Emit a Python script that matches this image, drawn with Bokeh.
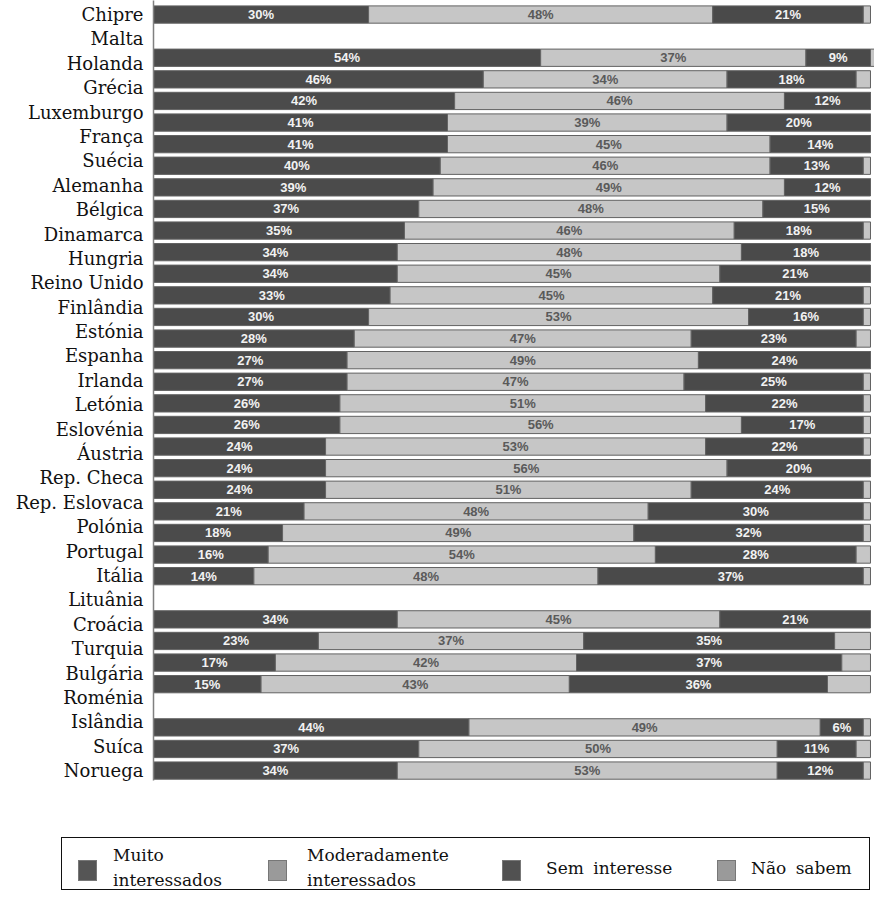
from bokeh.plotting import figure
from bokeh.models import Range1d, LinearAxis, FixedTicker, ColumnDataSource, Div
from bokeh.layouts import column
from bokeh.embed import file_html
from bokeh.resources import INLINE
from bokeh.core.properties import value

# Axis labels (as printed in the reference)
countries = ["Chipre", "Malta", "Holanda", "Grécia", "Luxemburgo", "França", "Suécia",
             "Alemanha", "Bélgica", "Dinamarca", "Hungria", "Reino Unido", "Finlândia",
             "Estónia", "Espanha", "Irlanda", "Letónia", "Eslovénia", "Áustria",
             "Rep. Checa", "Rep. Eslovaca", "Polónia", "Portugal", "Itália", "Lituânia",
             "Croácia", "Turquia", "Bulgária", "Roménia", "Islândia", "Suíca", "Noruega"]

# Bar rows, top to bottom (None = empty row)
muito = [30, None, 54, 46, 42, 41, 41, 40, 39, 37, 35, 34, 34, 33, 30, 28, 27, 27, 26, 26,
         24, 24, 24, 21, 18, 16, 14, None, 34, 23, 17, 15, None, 44, 37, 34]
moderado = [48, None, 37, 34, 46, 39, 45, 46, 49, 48, 46, 48, 45, 45, 53, 47, 49, 47, 51, 56,
            53, 56, 51, 48, 49, 54, 48, None, 45, 37, 42, 43, None, 49, 50, 53]
sem = [21, None, 9, 18, 12, 20, 14, 13, 12, 15, 18, 18, 21, 21, 16, 23, 24, 25, 22, 17,
       22, 20, 24, 30, 32, 28, 37, None, 21, 35, 37, 36, None, 6, 11, 12]
nao = [1, None, 1, 2, 0, 0, 0, 1, 0, 0, 1, 0, 0, 1, 1, 2, 0, 1, 1, 1,
       1, 0, 1, 1, 1, 2, 1, None, 0, 5, 4, 6, None, 1, 2, 1]

series_names = ["Muito\ninteressados", "Moderadamente\ninteressados", "Sem interesse", "Não sabem"]

DARK1 = "#4b4b4b"
LIGHT1 = "#c6c6c6"
DARK2 = "#4a4a4a"
LIGHT2 = "#c6c6c6"
SWATCH = ["#555555", "#9a9a9a", "#515151", "#9a9a9a"]

n_slots = len(muito)
n_lab = len(countries)
y_top, y_bot = -0.65, n_slots - 1 + 0.46

p = figure(width=874, height=800, output_backend="svg", toolbar_location=None,
           x_range=Range1d(0, 100.56), y_range=Range1d(y_bot, y_top),
           x_axis_type=None, y_axis_type=None,
           min_border_left=153, min_border_right=0, min_border_top=0, min_border_bottom=20)
p.outline_line_color = None
p.background_fill_color = "white"

scale = (n_lab - 1) / (n_slots - 1)
p.extra_y_ranges = {"lab": Range1d(y_bot * scale, y_top * scale)}
ax = LinearAxis(y_range_name="lab", ticker=FixedTicker(ticks=list(range(n_lab))),
                major_label_overrides={i: c for i, c in enumerate(countries)})
ax.major_tick_out = 0
ax.minor_tick_out = 0
ax.major_tick_in = 0
ax.minor_tick_in = 0
ax.major_tick_line_color = None
ax.minor_tick_line_color = None
ax.axis_line_color = "#808080"
ax.axis_line_width = 1.5
ax.major_label_text_font = "DejaVu Serif"
ax.major_label_text_font_size = "18px"
ax.major_label_text_color = "#111111"
ax.major_label_standoff = 10
p.add_layout(ax, "left")

rows = [i for i in range(n_slots) if muito[i] is not None]
src = ColumnDataSource(dict(
    y=rows,
    muito=[muito[i] for i in rows],
    moderado=[moderado[i] for i in rows],
    sem=[sem[i] for i in rows],
    nao=[nao[i] for i in rows],
))
p.hbar_stack(["muito", "moderado", "sem", "nao"], y="y", height=0.8, source=src,
             fill_color=[DARK1, LIGHT1, DARK2, LIGHT2], line_color="#626262", line_width=1)

# value labels
wx, wy, wt, gx, gy, gt = [], [], [], [], [], []
for i in rows:
    a, b, c = muito[i], moderado[i], sem[i]
    wx += [a / 2, a + b + c / 2]
    wy += [i, i]
    wt += [f"{a}%", f"{c}%"]
    gx.append(a + b / 2)
    gy.append(i)
    gt.append(f"{b}%")

p.text(x=wx, y=wy, text=wt, text_align="center", text_baseline="middle",
       text_font=value("Liberation Sans"), text_font_style="bold",
       text_font_size="13px", text_color="#f2f2f2")
p.text(x=gx, y=gy, text=gt, text_align="center", text_baseline="middle",
       text_font=value("Liberation Sans"), text_font_style="bold",
       text_font_size="13px", text_color="#5a5a5a")

# legend panel (HTML)
sw_left = [16, 206, 440, 655]
txt_left = [51, 245, 484, 689]
items = []
for name, col, sl, tl in zip(series_names, SWATCH, sw_left, txt_left):
    items.append(
        f'<div style="position:absolute;left:{sl}px;top:22px;width:19px;height:21px;'
        f'background:{col};border:1px solid #777;"></div>')
    parts = name.split("\n")
    if len(parts) == 2:
        items.append(
            f'<div style="position:absolute;left:{tl}px;top:5px;line-height:25px;'
            f'white-space:nowrap;">{parts[0]}<br>{parts[1]}</div>')
    else:
        items.append(
            f'<div style="position:absolute;left:{tl}px;top:18px;line-height:25px;'
            f'white-space:nowrap;word-spacing:4px;">{parts[0]}</div>')

legend_html = (
    '<div style="position:relative;width:874px;height:98px;">'
    '<div style="position:absolute;left:61px;top:37px;width:809px;height:53px;'
    'border:1.5px solid #111;font-family:\'DejaVu Serif\',serif;font-size:17px;color:#111;">'
    + "".join(items) +
    '</div></div>'
)
legend = Div(text=legend_html, width=874, height=98, margin=(0, 0, 0, 0))

layout = column(p, legend, spacing=0)
open("out.html", "w").write(file_html(layout, INLINE))
